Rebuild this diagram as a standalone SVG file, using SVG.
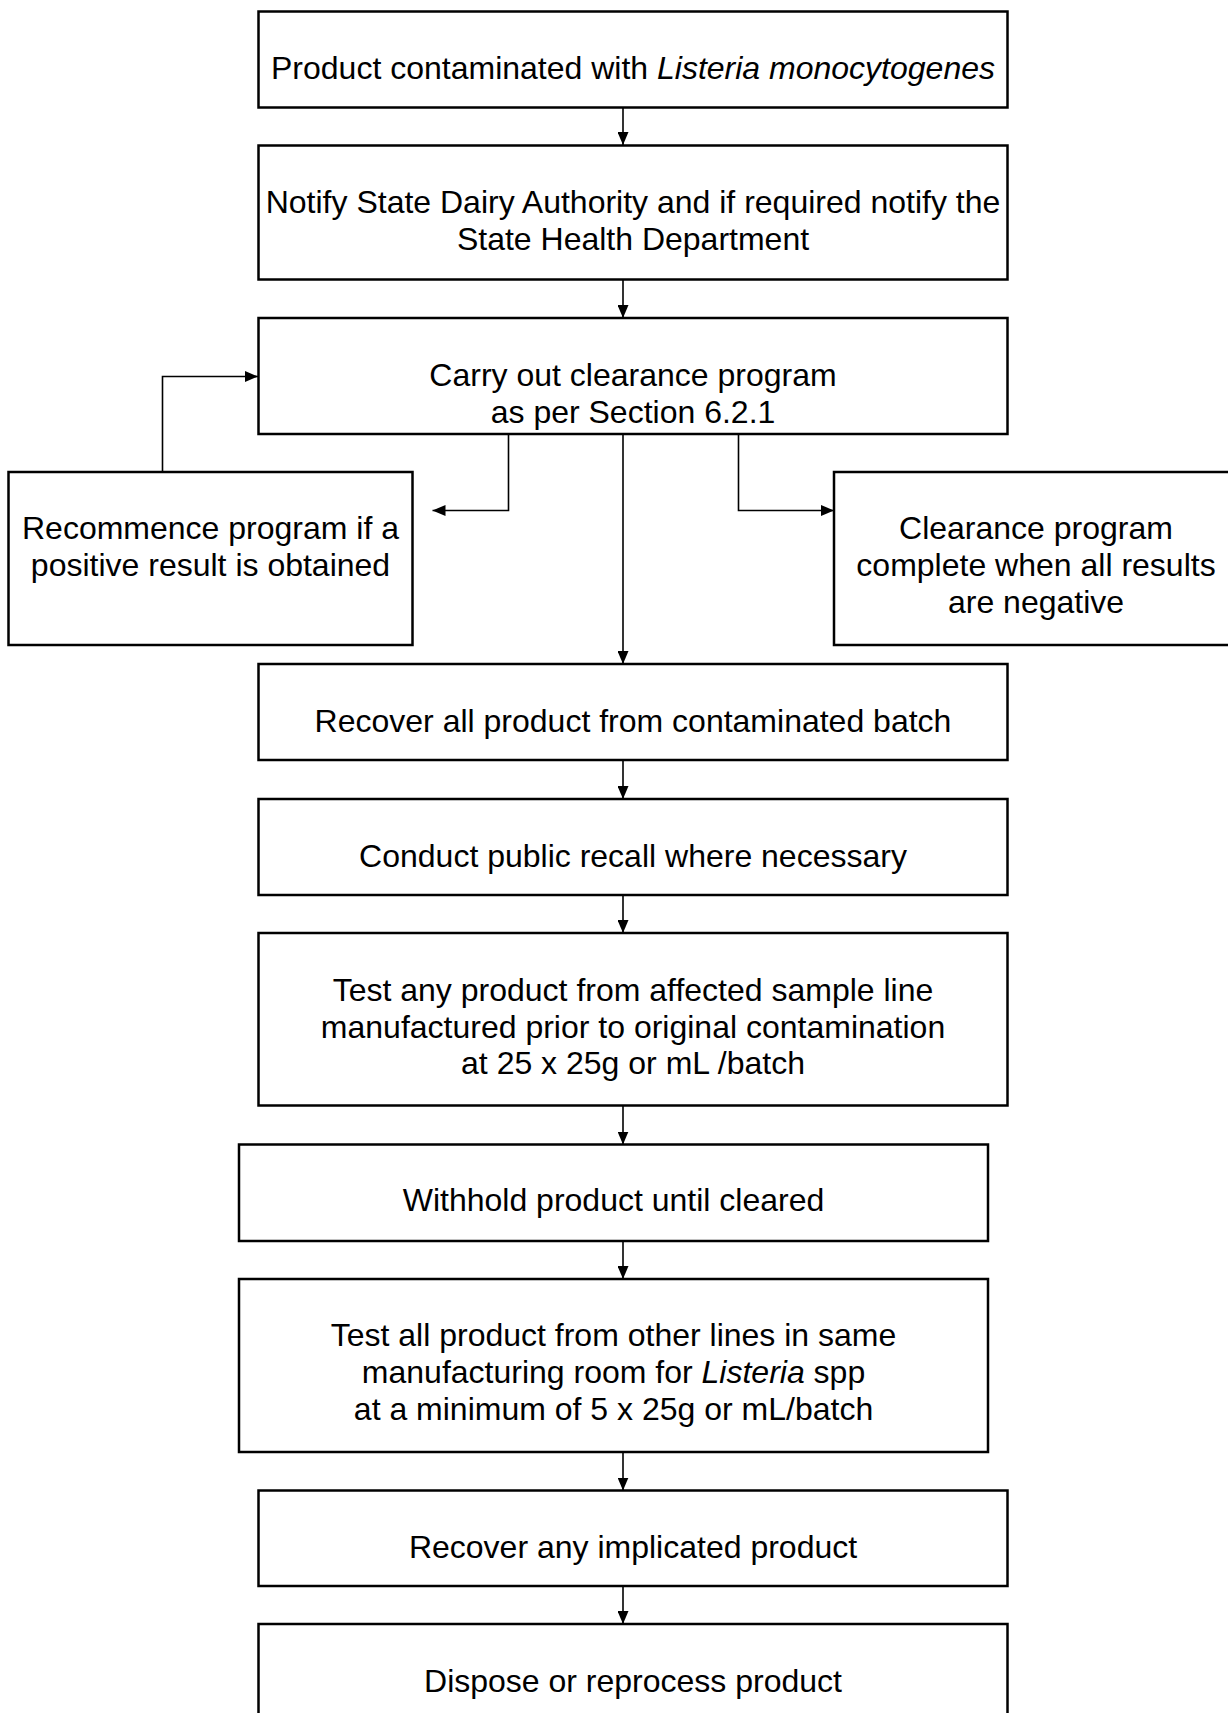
<svg xmlns="http://www.w3.org/2000/svg" width="1228" height="1713" viewBox="0 0 1228 1713">
<defs>
<style>
.box{fill:#fff;stroke:#000;stroke-width:2.5}
.t{font-family:"Liberation Sans",Arial,sans-serif;font-size:32px;fill:#000;text-anchor:middle}
.c{fill:none;stroke:#000;stroke-width:1.6}
</style>
<marker id="ah" viewBox="0 0 13 11" refX="13" refY="5.5" markerWidth="13" markerHeight="11" markerUnits="userSpaceOnUse" orient="auto">
<path d="M0,0 L13,5.5 L0,11 Z" fill="#000"/>
</marker>
</defs>
<rect width="1228" height="1713" fill="#fff"/>
<g id="connectors">
<path class="c" d="M623,108 V145" marker-end="url(#ah)"/>
<path class="c" d="M623,280 V318" marker-end="url(#ah)"/>
<path class="c" d="M623,435 V664" marker-end="url(#ah)"/>
<path class="c" d="M508.5,435 V510.5 H432.5" marker-end="url(#ah)"/>
<path class="c" d="M738.5,435 V510.5 H834" marker-end="url(#ah)"/>
<path class="c" d="M162.5,472 V376.5 H258" marker-end="url(#ah)"/>
<path class="c" d="M623,761 V799" marker-end="url(#ah)"/>
<path class="c" d="M623,896 V933" marker-end="url(#ah)"/>
<path class="c" d="M623,1106 V1144.5" marker-end="url(#ah)"/>
<path class="c" d="M623,1242 V1279" marker-end="url(#ah)"/>
<path class="c" d="M623,1453 V1490.5" marker-end="url(#ah)"/>
<path class="c" d="M623,1587 V1624" marker-end="url(#ah)"/>
</g>
<g id="n1"><rect class="box" x="258.5" y="11.5" width="749" height="96"/>
<text class="t" x="633" y="79">Product contaminated with <tspan font-style="italic">Listeria monocytogenes</tspan></text></g>
<g id="n2"><rect class="box" x="258.5" y="145.5" width="749" height="134"/>
<text class="t" x="633" y="213">Notify State Dairy Authority and if required notify the</text>
<text class="t" x="633" y="250">State Health Department</text></g>
<g id="n3"><rect class="box" x="258.5" y="318" width="749" height="116"/>
<text class="t" x="633" y="386">Carry out clearance program</text>
<text class="t" x="633" y="422.5">as per Section 6.2.1</text></g>
<g id="n4"><rect class="box" x="8.5" y="472" width="404" height="173"/>
<text class="t" x="210.5" y="539">Recommence program if a</text>
<text class="t" x="210.5" y="576">positive result is obtained</text></g>
<g id="n5"><rect class="box" x="834" y="472" width="420" height="173"/>
<text class="t" x="1036" y="539">Clearance program</text>
<text class="t" x="1036" y="576">complete when all results</text>
<text class="t" x="1036" y="613">are negative</text></g>
<g id="n6"><rect class="box" x="258.5" y="664" width="749" height="96"/>
<text class="t" x="633" y="731.5">Recover all product from contaminated batch</text></g>
<g id="n7"><rect class="box" x="258.5" y="799" width="749" height="96"/>
<text class="t" x="633" y="866.5">Conduct public recall where necessary</text></g>
<g id="n8"><rect class="box" x="258.5" y="933" width="749" height="172.5"/>
<text class="t" x="633" y="1001">Test any product from affected sample line</text>
<text class="t" x="633" y="1037.5">manufactured prior to original contamination</text>
<text class="t" x="633" y="1074">at 25 x 25g or mL /batch</text></g>
<g id="n9"><rect class="box" x="239" y="1144.5" width="749" height="96.5"/>
<text class="t" x="613.5" y="1211">Withhold product until cleared</text></g>
<g id="n10"><rect class="box" x="239" y="1279" width="749" height="173"/>
<text class="t" x="613.5" y="1346">Test all product from other lines in same</text>
<text class="t" x="613.5" y="1383">manufacturing room for <tspan font-style="italic">Listeria</tspan> spp</text>
<text class="t" x="613.5" y="1419.5">at a minimum of 5 x 25g or mL/batch</text></g>
<g id="n11"><rect class="box" x="258.5" y="1490.5" width="749" height="95.5"/>
<text class="t" x="633" y="1557.5">Recover any implicated product</text></g>
<g id="n12"><rect class="box" x="258.5" y="1624" width="749" height="120"/>
<text class="t" x="633" y="1692">Dispose or reprocess product</text></g>
</svg>
